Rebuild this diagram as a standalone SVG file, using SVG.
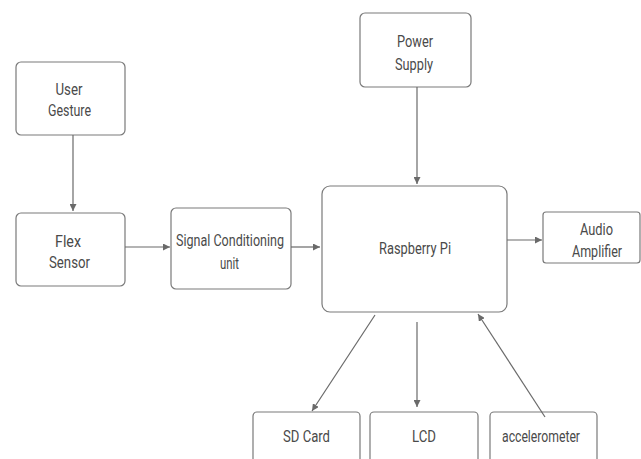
<svg xmlns="http://www.w3.org/2000/svg" width="641" height="459" viewBox="0 0 641 459">
<style>
.box{fill:#fff;stroke:#7a7a7a;stroke-width:1.2}
.t{font-family:Roboto,"Liberation Sans",sans-serif;font-size:16px;fill:#4a4a4a;text-anchor:middle}
.c{stroke:#6a6a6a;stroke-width:1.2;fill:none;marker-end:url(#ah)}
</style>
<defs>
<marker id="ah" viewBox="0 0 10 10" refX="10" refY="5" markerWidth="7" markerHeight="7" orient="auto" markerUnits="userSpaceOnUse">
<path d="M0,0 L10,5 L0,10 z" fill="#6a6a6a"/>
</marker>
</defs>
<rect width="641" height="459" fill="#fff"/>
<g id="user-gesture"><rect class="box" x="16" y="62" width="109" height="73" rx="5"/>
<text class="t" x="69" y="95" textLength="27" lengthAdjust="spacingAndGlyphs">User</text>
<text class="t" x="69.5" y="116" textLength="43" lengthAdjust="spacingAndGlyphs">Gesture</text></g>
<g id="flex-sensor"><rect class="box" x="16" y="213" width="109" height="73" rx="5"/>
<text class="t" x="68" y="246.5" textLength="26" lengthAdjust="spacingAndGlyphs">Flex</text>
<text class="t" x="69.5" y="268" textLength="41" lengthAdjust="spacingAndGlyphs">Sensor</text></g>
<g id="signal-conditioning"><rect class="box" x="171" y="208" width="120" height="81" rx="5"/>
<text class="t" x="230" y="246" textLength="108" lengthAdjust="spacingAndGlyphs">Signal Conditioning</text>
<text class="t" x="229.5" y="269" textLength="19" lengthAdjust="spacingAndGlyphs">unit</text></g>
<g id="power-supply"><rect class="box" x="360" y="13" width="111" height="74" rx="5"/>
<text class="t" x="415" y="46.5" textLength="36" lengthAdjust="spacingAndGlyphs">Power</text>
<text class="t" x="414" y="69.5" textLength="38" lengthAdjust="spacingAndGlyphs">Supply</text></g>
<g id="raspberry-pi"><rect class="box" x="322" y="186" width="185" height="126" rx="8"/>
<text class="t" x="415" y="254" textLength="72" lengthAdjust="spacingAndGlyphs">Raspberry Pi</text></g>
<g id="audio-amplifier"><rect class="box" x="543" y="212" width="97" height="51" rx="3"/>
<text class="t" x="596.5" y="234.5" textLength="33" lengthAdjust="spacingAndGlyphs">Audio</text>
<text class="t" x="597" y="256.5" textLength="50" lengthAdjust="spacingAndGlyphs">Amplifier</text></g>
<g id="sd-card"><rect class="box" x="253" y="412" width="107" height="60" rx="4"/>
<text class="t" x="306.5" y="442" textLength="47" lengthAdjust="spacingAndGlyphs">SD Card</text></g>
<g id="lcd"><rect class="box" x="370" y="412" width="108" height="60" rx="4"/>
<text class="t" x="424" y="442" textLength="24" lengthAdjust="spacingAndGlyphs">LCD</text></g>
<g id="accelerometer"><rect class="box" x="490" y="412" width="107" height="60" rx="4"/>
<text class="t" x="541" y="442" textLength="78" lengthAdjust="spacingAndGlyphs">accelerometer</text></g>
<g id="connectors">
<line class="c" x1="73" y1="135" x2="73" y2="211"/>
<line class="c" x1="125" y1="247" x2="170" y2="247"/>
<line class="c" x1="291" y1="247" x2="320" y2="247"/>
<line class="c" x1="417" y1="87" x2="417" y2="184"/>
<line class="c" x1="507" y1="240" x2="542" y2="240"/>
<line class="c" x1="375" y1="315" x2="312" y2="411"/>
<line class="c" x1="417" y1="322" x2="417" y2="407"/>
<line class="c" x1="545" y1="417" x2="478" y2="314"/>
</g>
</svg>
